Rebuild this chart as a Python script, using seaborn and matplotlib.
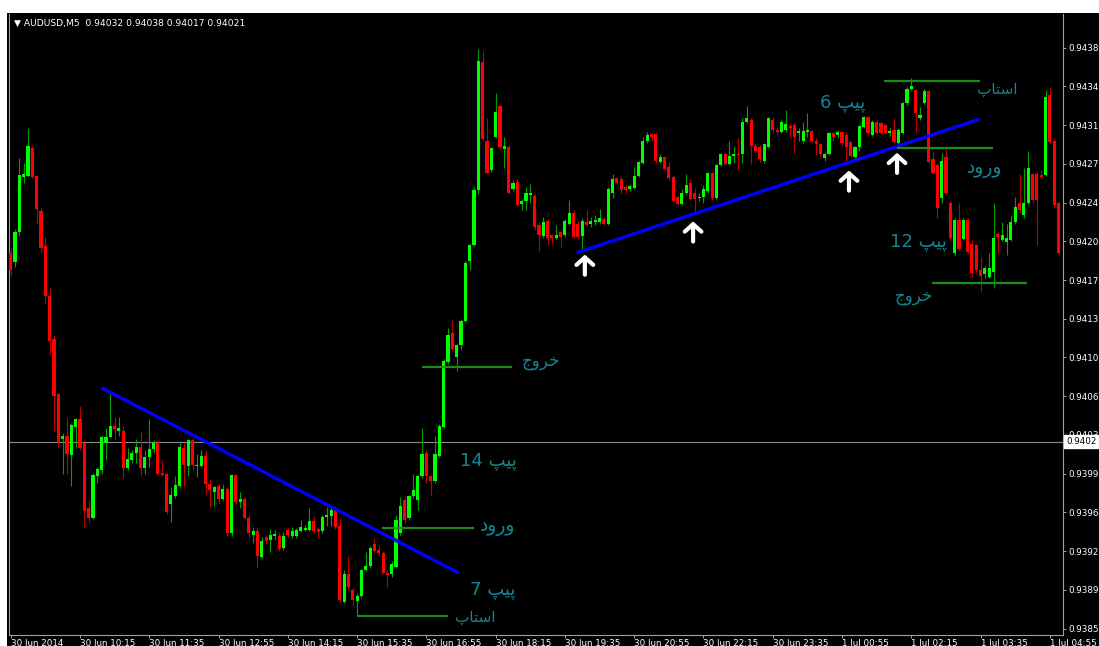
import numpy as np
import matplotlib
matplotlib.use("Agg")
import matplotlib.pyplot as plt
from matplotlib.patches import Rectangle
import seaborn as sns

# AUDUSD M5 candles, oldest first
opens = [
    0.94191, 0.94183, 0.94210, 0.94260, 0.94261, 0.94286, 0.94261, 0.94229, 0.94198, 0.94153,
    0.94114, 0.94064, 0.94023, 0.94026, 0.94009, 0.94034, 0.94041, 0.94020, 0.93961, 0.93952,
    0.93990, 0.93995, 0.94020, 0.94025, 0.94035, 0.94031, 0.94031, 0.93997, 0.94004, 0.94011,
    0.94016, 0.93997, 0.94007, 0.94014, 0.94020, 0.93993, 0.93992, 0.93965, 0.93972, 0.93981,
    0.94015, 0.93999, 0.94022, 0.93999, 0.93999, 0.94008, 0.93983, 0.93975, 0.93981, 0.93969,
    0.93978, 0.93938, 0.93991, 0.93966, 0.93969, 0.93952, 0.93937, 0.93940, 0.93917, 0.93935,
    0.93932, 0.93936, 0.93936, 0.93925, 0.93941, 0.93936, 0.93936, 0.93940, 0.93941, 0.93941,
    0.93949, 0.93942, 0.93940, 0.93953, 0.93954, 0.93959, 0.93945, 0.93876, 0.93901, 0.93887,
    0.93877, 0.93881, 0.93905, 0.93909, 0.93928, 0.93923, 0.93920, 0.93902, 0.93901, 0.93908,
    0.93938, 0.93968, 0.93952, 0.93972, 0.93968, 0.93990, 0.94011, 0.93990, 0.93985, 0.94008,
    0.94034, 0.94093, 0.94119, 0.94097, 0.94108, 0.94130, 0.94184, 0.94199, 0.94248, 0.94364,
    0.94293, 0.94266, 0.94296, 0.94324, 0.94285, 0.94287, 0.94249, 0.94256, 0.94236, 0.94238,
    0.94244, 0.94243, 0.94217, 0.94207, 0.94220, 0.94208, 0.94205, 0.94210, 0.94208, 0.94218,
    0.94228, 0.94218, 0.94207, 0.94219, 0.94218, 0.94219, 0.94219, 0.94222, 0.94218, 0.94246,
    0.94259, 0.94258, 0.94251, 0.94249, 0.94250, 0.94261, 0.94273, 0.94293, 0.94299, 0.94299,
    0.94274, 0.94278, 0.94269, 0.94260, 0.94242, 0.94236, 0.94246, 0.94255, 0.94246, 0.94241,
    0.94242, 0.94247, 0.94264, 0.94241, 0.94271, 0.94281, 0.94272, 0.94279, 0.94281, 0.94281,
    0.94310, 0.94312, 0.94288, 0.94287, 0.94275, 0.94287, 0.94312, 0.94303, 0.94301, 0.94303,
    0.94306, 0.94307, 0.94300, 0.94293, 0.94301, 0.94302, 0.94293, 0.94290, 0.94277, 0.94281,
    0.94300, 0.94298, 0.94301, 0.94298, 0.94292, 0.94278, 0.94287, 0.94305, 0.94314, 0.94298,
    0.94310, 0.94309, 0.94307, 0.94300, 0.94303, 0.94291, 0.94300, 0.94327, 0.94340, 0.94339,
    0.94313, 0.94327, 0.94338, 0.94276, 0.94271, 0.94241, 0.94278, 0.94237, 0.94191, 0.94221,
    0.94204, 0.94221, 0.94200, 0.94199, 0.94176, 0.94172, 0.94170, 0.94174, 0.94209, 0.94203,
    0.94201, 0.94203, 0.94219, 0.94237, 0.94226, 0.94237, 0.94263, 0.94263, 0.94262, 0.94262,
    0.94334, 0.94293, 0.94237]
highs = [
    0.94196, 0.94213, 0.94277, 0.94273, 0.94304, 0.94288, 0.94262, 0.94232, 0.94206, 0.94160,
    0.94117, 0.94065, 0.94029, 0.94042, 0.94038, 0.94042, 0.94053, 0.94022, 0.93968, 0.93993,
    0.93998, 0.94027, 0.94033, 0.94065, 0.94043, 0.94043, 0.94035, 0.94015, 0.94013, 0.94023,
    0.94031, 0.94013, 0.94041, 0.94022, 0.94022, 0.94004, 0.93993, 0.93980, 0.93990, 0.94020,
    0.94020, 0.94023, 0.94024, 0.94010, 0.94013, 0.94013, 0.93987, 0.93981, 0.93983, 0.93983,
    0.93980, 0.93992, 0.93992, 0.93975, 0.93971, 0.93955, 0.93944, 0.93943, 0.93935, 0.93936,
    0.93942, 0.93941, 0.93939, 0.93939, 0.93943, 0.93944, 0.93943, 0.93950, 0.93946, 0.93961,
    0.93954, 0.93944, 0.93955, 0.93962, 0.93961, 0.93963, 0.93952, 0.93905, 0.93918, 0.93889,
    0.93884, 0.93906, 0.93921, 0.93927, 0.93934, 0.93927, 0.93922, 0.93905, 0.93913, 0.93955,
    0.93971, 0.93972, 0.93973, 0.93992, 0.93991, 0.94033, 0.94013, 0.93991, 0.94026, 0.94037,
    0.94096, 0.94124, 0.94131, 0.94109, 0.94132, 0.94184, 0.94200, 0.94251, 0.94376, 0.94374,
    0.94313, 0.94287, 0.94336, 0.94326, 0.94296, 0.94289, 0.94257, 0.94258, 0.94240, 0.94251,
    0.94254, 0.94245, 0.94219, 0.94224, 0.94222, 0.94209, 0.94217, 0.94212, 0.94222, 0.94239,
    0.94230, 0.94220, 0.94223, 0.94230, 0.94224, 0.94226, 0.94231, 0.94224, 0.94251, 0.94263,
    0.94260, 0.94260, 0.94253, 0.94253, 0.94269, 0.94275, 0.94296, 0.94301, 0.94300, 0.94300,
    0.94281, 0.94279, 0.94274, 0.94262, 0.94243, 0.94249, 0.94263, 0.94258, 0.94250, 0.94246,
    0.94253, 0.94265, 0.94265, 0.94272, 0.94282, 0.94282, 0.94293, 0.94288, 0.94295, 0.94313,
    0.94324, 0.94313, 0.94291, 0.94289, 0.94291, 0.94314, 0.94314, 0.94305, 0.94312, 0.94321,
    0.94309, 0.94309, 0.94304, 0.94310, 0.94318, 0.94303, 0.94295, 0.94291, 0.94283, 0.94301,
    0.94301, 0.94303, 0.94302, 0.94301, 0.94293, 0.94288, 0.94307, 0.94315, 0.94315, 0.94312,
    0.94312, 0.94310, 0.94309, 0.94304, 0.94313, 0.94304, 0.94328, 0.94341, 0.94350, 0.94340,
    0.94323, 0.94340, 0.94339, 0.94284, 0.94273, 0.94282, 0.94287, 0.94238, 0.94223, 0.94237,
    0.94223, 0.94223, 0.94203, 0.94200, 0.94188, 0.94180, 0.94191, 0.94237, 0.94210, 0.94219,
    0.94218, 0.94226, 0.94242, 0.94263, 0.94268, 0.94284, 0.94264, 0.94265, 0.94266, 0.94339,
    0.94341, 0.94295, 0.94238]
lows = [
    0.94171, 0.94179, 0.94207, 0.94255, 0.94260, 0.94259, 0.94218, 0.94191, 0.94146, 0.94099,
    0.94031, 0.94016, 0.93992, 0.93992, 0.93981, 0.94015, 0.94013, 0.93943, 0.93947, 0.93951,
    0.93984, 0.93992, 0.94004, 0.94024, 0.94022, 0.94026, 0.93988, 0.93995, 0.94002, 0.94002,
    0.93990, 0.93992, 0.93998, 0.94011, 0.93991, 0.93990, 0.93956, 0.93948, 0.93970, 0.93980,
    0.93981, 0.93990, 0.93995, 0.93989, 0.93998, 0.93974, 0.93962, 0.93963, 0.93965, 0.93968,
    0.93936, 0.93936, 0.93965, 0.93961, 0.93951, 0.93934, 0.93929, 0.93907, 0.93916, 0.93928,
    0.93921, 0.93932, 0.93922, 0.93923, 0.93935, 0.93934, 0.93934, 0.93939, 0.93940, 0.93940,
    0.93938, 0.93935, 0.93938, 0.93945, 0.93945, 0.93942, 0.93876, 0.93875, 0.93888, 0.93872,
    0.93863, 0.93880, 0.93904, 0.93907, 0.93920, 0.93918, 0.93901, 0.93890, 0.93899, 0.93907,
    0.93937, 0.93947, 0.93950, 0.93970, 0.93959, 0.93988, 0.93984, 0.93972, 0.93984, 0.94007,
    0.94033, 0.94091, 0.94103, 0.94085, 0.94104, 0.94129, 0.94176, 0.94198, 0.94245, 0.94293,
    0.94263, 0.94265, 0.94295, 0.94286, 0.94268, 0.94245, 0.94247, 0.94234, 0.94230, 0.94230,
    0.94237, 0.94212, 0.94193, 0.94205, 0.94199, 0.94200, 0.94204, 0.94197, 0.94206, 0.94217,
    0.94205, 0.94204, 0.94193, 0.94216, 0.94215, 0.94217, 0.94218, 0.94217, 0.94217, 0.94241,
    0.94254, 0.94246, 0.94246, 0.94247, 0.94249, 0.94260, 0.94272, 0.94291, 0.94293, 0.94273,
    0.94273, 0.94266, 0.94257, 0.94237, 0.94235, 0.94235, 0.94245, 0.94239, 0.94227, 0.94238,
    0.94237, 0.94246, 0.94239, 0.94240, 0.94270, 0.94271, 0.94271, 0.94273, 0.94266, 0.94273,
    0.94309, 0.94272, 0.94282, 0.94274, 0.94273, 0.94286, 0.94301, 0.94298, 0.94300, 0.94301,
    0.94296, 0.94282, 0.94293, 0.94291, 0.94296, 0.94292, 0.94280, 0.94278, 0.94275, 0.94280,
    0.94293, 0.94295, 0.94289, 0.94274, 0.94278, 0.94277, 0.94284, 0.94304, 0.94298, 0.94297,
    0.94299, 0.94299, 0.94299, 0.94297, 0.94290, 0.94290, 0.94299, 0.94325, 0.94339, 0.94301,
    0.94312, 0.94326, 0.94273, 0.94263, 0.94223, 0.94237, 0.94245, 0.94203, 0.94190, 0.94194,
    0.94203, 0.94191, 0.94170, 0.94174, 0.94156, 0.94169, 0.94169, 0.94160, 0.94191, 0.94202,
    0.94190, 0.94202, 0.94218, 0.94228, 0.94223, 0.94236, 0.94237, 0.94199, 0.94259, 0.94261,
    0.94291, 0.94233, 0.94190]
closes = [
    0.94176, 0.94210, 0.94262, 0.94263, 0.94288, 0.94260, 0.94231, 0.94196, 0.94153, 0.94112,
    0.94062, 0.94021, 0.94026, 0.94010, 0.94036, 0.94041, 0.94015, 0.93958, 0.93952, 0.93991,
    0.93996, 0.94025, 0.94025, 0.94035, 0.94032, 0.94033, 0.93997, 0.94005, 0.94011, 0.94016,
    0.93997, 0.94007, 0.94014, 0.94020, 0.93992, 0.93991, 0.93957, 0.93973, 0.93982, 0.94016,
    0.94000, 0.94022, 0.94000, 0.94000, 0.94008, 0.93983, 0.93977, 0.93980, 0.93969, 0.93978,
    0.93938, 0.93991, 0.93966, 0.93969, 0.93952, 0.93938, 0.93940, 0.93918, 0.93931, 0.93931,
    0.93937, 0.93937, 0.93924, 0.93936, 0.93937, 0.93940, 0.93941, 0.93944, 0.93943, 0.93949,
    0.93940, 0.93939, 0.93953, 0.93955, 0.93959, 0.93944, 0.93878, 0.93901, 0.93890, 0.93878,
    0.93881, 0.93905, 0.93909, 0.93925, 0.93922, 0.93920, 0.93902, 0.93900, 0.93910, 0.93950,
    0.93963, 0.93950, 0.93972, 0.93977, 0.93990, 0.94010, 0.93990, 0.93985, 0.94010, 0.94035,
    0.94094, 0.94117, 0.94105, 0.94108, 0.94130, 0.94182, 0.94199, 0.94248, 0.94365, 0.94294,
    0.94264, 0.94286, 0.94319, 0.94287, 0.94288, 0.94246, 0.94255, 0.94235, 0.94238, 0.94246,
    0.94246, 0.94215, 0.94208, 0.94219, 0.94205, 0.94205, 0.94208, 0.94206, 0.94220, 0.94228,
    0.94206, 0.94206, 0.94220, 0.94217, 0.94220, 0.94221, 0.94223, 0.94218, 0.94249, 0.94258,
    0.94255, 0.94248, 0.94248, 0.94252, 0.94261, 0.94274, 0.94293, 0.94298, 0.94296, 0.94275,
    0.94278, 0.94267, 0.94259, 0.94238, 0.94236, 0.94246, 0.94253, 0.94240, 0.94240, 0.94242,
    0.94249, 0.94264, 0.94241, 0.94271, 0.94281, 0.94272, 0.94279, 0.94281, 0.94280, 0.94310,
    0.94313, 0.94288, 0.94284, 0.94276, 0.94290, 0.94313, 0.94303, 0.94301, 0.94310, 0.94308,
    0.94304, 0.94296, 0.94302, 0.94302, 0.94302, 0.94293, 0.94290, 0.94281, 0.94281, 0.94300,
    0.94296, 0.94301, 0.94291, 0.94287, 0.94279, 0.94287, 0.94306, 0.94314, 0.94300, 0.94310,
    0.94300, 0.94300, 0.94300, 0.94302, 0.94292, 0.94303, 0.94327, 0.94340, 0.94342, 0.94318,
    0.94316, 0.94338, 0.94274, 0.94264, 0.94232, 0.94275, 0.94246, 0.94205, 0.94221, 0.94195,
    0.94221, 0.94192, 0.94173, 0.94176, 0.94171, 0.94178, 0.94178, 0.94205, 0.94206, 0.94208,
    0.94205, 0.94219, 0.94233, 0.94230, 0.94237, 0.94268, 0.94239, 0.94239, 0.94260, 0.94332,
    0.94292, 0.94235, 0.94191]

# time axis labels and the bar they sit on
time_labels = ['30 Jun 2014', '30 Jun 10:15', '30 Jun 11:35', '30 Jun 12:55',
               '30 Jun 14:15', '30 Jun 15:35', '30 Jun 16:55', '30 Jun 18:15',
               '30 Jun 19:35', '30 Jun 20:55', '30 Jun 22:15', '30 Jun 23:35',
               '1 Jul 00:55', '1 Jul 02:15', '1 Jul 03:35', '1 Jul 04:55']
time_label_bars = [0, 16, 32, 48, 64, 80, 96, 112, 128, 144, 160, 176, 192, 208, 224, 240]

price_ticks = [0.93852, 0.93887, 0.93922, 0.93957, 0.93992, 0.94027, 0.94062, 0.94097,
               0.94132, 0.94167, 0.94202, 0.94237, 0.94272, 0.94307, 0.94342, 0.94377]
price_labels = ['0.9385', '0.9389', '0.9392', '0.9396', '0.9399', '0.9403', '0.9406', '0.9410',
                '0.9413', '0.9417', '0.9420', '0.9424', '0.9427', '0.9431', '0.9434', '0.9438']

header_ohlc = [0.94032, 0.94038, 0.94017, 0.94021]
bid_price = 0.94021

# blue trend lines: bars and prices of both ends
trend_bars = [[21.3, 103.1], [131.0, 223.4]]
trend_prices = [[0.94069, 0.93903], [0.94192, 0.94312]]

# green stop / entry / exit levels
level_prices = [0.93863, 0.93943, 0.94088, 0.94347, 0.94286, 0.94164]
level_start = [80.0, 85.7, 95.0, 201.7, 204.7, 212.8]
level_end = [101.0, 107.0, 115.8, 223.9, 226.9, 234.7]

# white arrows under the trend line touches
arrow_bars = [132.6, 157.6, 193.6, 204.7]
arrow_tips = [0.94190, 0.94220, 0.94266, 0.94282]

# persian notes, glyphs already shaped and in left-to-right visual order
PIP = '\ufb57\ufbff\ufb58'                      # pip
ENTRY = '\u062f\u0648\u0631\u0648'              # entry
STOP = '\ufb56\ufe8e\ufe98\ufeb3\ufe8d'         # stop
EXIT = '\ufe9d\ufeed\ufeae\ufea7'               # exit
note_texts = ['14 ' + PIP, ENTRY, '7 ' + PIP, STOP, EXIT,
              '6 ' + PIP, STOP, ENTRY, '12 ' + PIP, EXIT]
note_bars = [103.8, 108.4, 106.1, 102.6, 118.1, 186.9, 223.2, 220.9, 203.1, 204.2]
note_prices = [0.94003, 0.93944, 0.93887, 0.93862, 0.94094,
               0.94327, 0.94339, 0.94268, 0.94201, 0.94153]
note_sizes = [13, 13.5, 13, 11, 12, 13, 11, 13.5, 13, 12]

sns.set_theme(style='dark', rc={'axes.facecolor': 'black', 'figure.facecolor': 'white',
                                'axes.grid': False})
plt.rcParams['font.family'] = ['DejaVu Sans']

o = np.array(opens)
h = np.array(highs)
l = np.array(lows)
c = np.array(closes)
x = np.arange(len(o))
up = c >= o

fig = plt.figure(figsize=(10.99, 6.46), dpi=100)
# black chart window behind the plot and both scales
fig.patches.append(Rectangle((7 / 1099, 0), 1, 633 / 646, transform=fig.transFigure,
                             facecolor='black', edgecolor='none', zorder=-10))
ax = fig.add_axes([9 / 1099, 11 / 646, 1054 / 1099, 621 / 646])
ax.set_facecolor('black')

ax.axhline(bid_price, color='#8c8c8c', linewidth=0.8, zorder=1)

ax.vlines(x, l, h, colors=np.where(up, '#00a000', '#c00000'), linewidth=0.8, zorder=2)
body_low = np.minimum(o, c)
body_h = np.maximum(np.abs(c - o), 0.000012)
ax.bar(x, body_h, bottom=body_low, width=0.72,
       color=np.where(up, '#00ff00', '#ff0000'), linewidth=0, zorder=3)

for tb, tp in zip(trend_bars, trend_prices):
    sns.lineplot(x=tb, y=tp, color='#0000ff', linewidth=2.4, ax=ax, zorder=4)

ax.hlines(level_prices, level_start, level_end, colors='#1a8c1a', linewidth=1.6, zorder=4)

for ab, tip in zip(arrow_bars, arrow_tips):
    ax.annotate('', xy=(ab, tip), xytext=(0, -14.5), textcoords='offset points',
                arrowprops=dict(arrowstyle='->,head_length=0.45,head_width=0.5',
                                color='white', lw=3, shrinkA=0, shrinkB=0,
                                mutation_scale=12), zorder=5)

for s, b, p, fs in zip(note_texts, note_bars, note_prices, note_sizes):
    ax.text(b, p, s, color='#148592', fontsize=fs, ha='left', va='center', zorder=6)

ax.set_xlim(-0.39, 243.03)
ax.set_ylim(0.938462, 0.944074)

ax.set_xticks(time_label_bars)
ax.set_xticklabels(time_labels)
for lab in ax.get_xticklabels():
    lab.set_horizontalalignment('left')
ax.set_yticks(price_ticks)
ax.set_yticklabels(price_labels)
ax.yaxis.tick_right()
ax.tick_params(axis='y', right=True, left=False, labelright=True, labelleft=False,
               colors='#a0a0a0', labelcolor='white', length=2.2, width=0.7, pad=2,
               labelsize=6.3)
ax.tick_params(axis='x', bottom=True, top=False, colors='#a0a0a0', labelcolor='white',
               length=2.5, width=0.7, pad=0.5, labelsize=6.3)
ax.set_xlabel('')
ax.set_ylabel('')

ax.spines['top'].set_visible(False)
for side in ['left', 'right', 'bottom']:
    ax.spines[side].set_color('#a0a0a0')
    ax.spines[side].set_linewidth(0.8)

ax.text(1 + 3 / 1054, bid_price, f'{bid_price:.4f}', transform=ax.get_yaxis_transform(),
        fontsize=6.3, color='black', ha='left', va='center', clip_on=False, zorder=10,
        bbox=dict(boxstyle='square,pad=0.2', facecolor='white', edgecolor='white'))

header = '\u25bc AUDUSD,M5  ' + ' '.join(f'{v:.5f}' for v in header_ohlc)
fig.text(14 / 1099, 1 - 23 / 646, header, color='white', fontsize=6.6, ha='left', va='center')

fig.savefig('out.png', dpi=100)
